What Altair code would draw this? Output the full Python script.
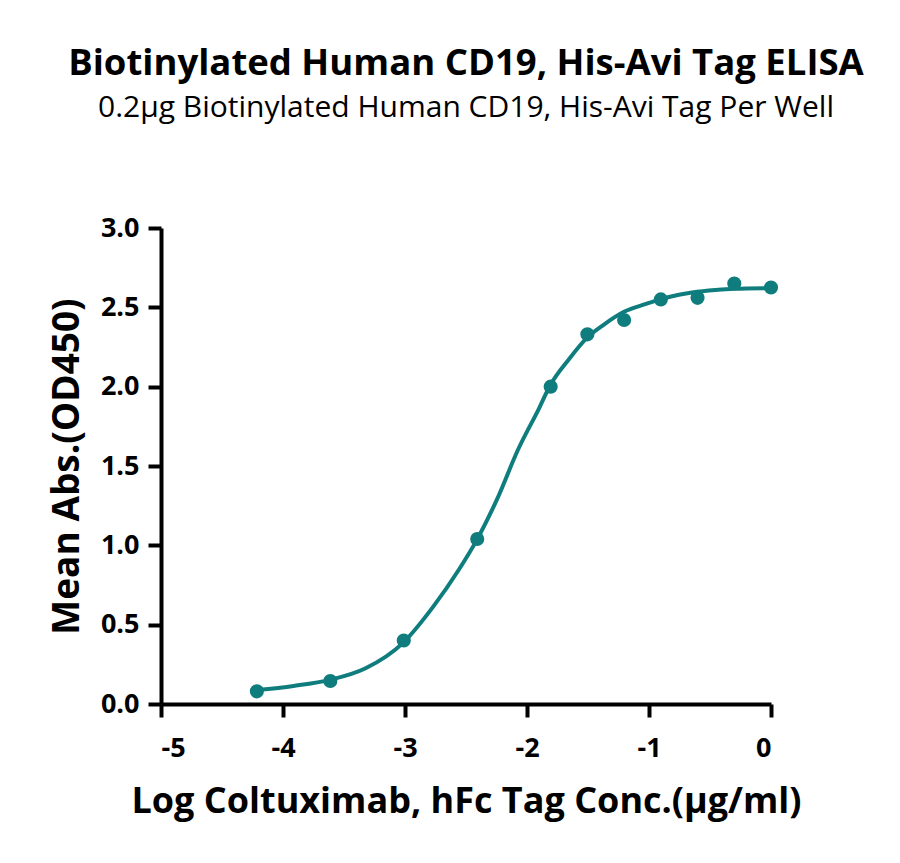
import altair as alt
import pandas as pd

# measured points (log conc, OD450)
log_conc = [-4.214, -3.612, -3.010, -2.408, -1.806, -1.505, -1.204, -0.903, -0.602, -0.301, 0.0]
od450 = [0.08, 0.145, 0.40, 1.04, 2.00, 2.33, 2.42, 2.55, 2.56, 2.65, 2.625]

# fitted curve
curve_x = [-4.215, -3.913, -3.615, -3.323, -3.014, -2.767, -2.559, -2.41, -2.247, -2.073,
           -1.899, -1.813, -1.656, -1.507, -1.378, -1.205, -1.031, -0.903, -0.684, -0.51,
           -0.302, 0.0]
curve_y = [0.088, 0.114, 0.152, 0.225, 0.387, 0.615, 0.846, 1.036, 1.288, 1.604,
           1.867, 2.004, 2.173, 2.309, 2.387, 2.472, 2.52, 2.552, 2.589, 2.606,
           2.617, 2.621]

x_ticks = [-5, -4, -3, -2, -1, 0]
y_ticks = [0.0, 0.5, 1.0, 1.5, 2.0, 2.5, 3.0]

teal = "#0F7D7E"
font = "Open Sans"

pts = pd.DataFrame({"x": log_conc, "y": od450})
fit = pd.DataFrame({"x": curve_x, "y": curve_y})

x_enc = alt.X("x:Q", scale=alt.Scale(domain=[-5, 0], nice=False),
              axis=alt.Axis(values=x_ticks, labelExpr="'' + datum.value",
                            title="Log Coltuximab, hFc Tag Conc.(μg/ml)",
                            titleFontSize=36, titlePadding=23, labelPadding=18))
y_enc = alt.Y("y:Q", scale=alt.Scale(domain=[0, 3], nice=False),
              axis=alt.Axis(values=y_ticks, format=".1f", title="Mean Abs.(OD450)",
                            titleFontSize=37, titlePadding=14, labelPadding=9))

line = alt.Chart(fit).mark_line(color=teal, strokeWidth=4, interpolate="monotone").encode(
    x=x_enc, y=y_enc)
dots = alt.Chart(pts).mark_circle(color=teal, size=200, opacity=1).encode(x="x:Q", y="y:Q")

chart = (line + dots).properties(
    width=610,
    height=476,
    padding={"left": 40, "top": 37, "right": 5, "bottom": 5},
    title=alt.TitleParams(
        "Biotinylated Human CD19, His-Avi Tag ELISA",
        subtitle="0.2μg Biotinylated Human CD19, His-Avi Tag Per Well",
        font=font, fontSize=36.5, fontWeight="bold", color="black",
        subtitleFont=font, subtitleFontSize=30, subtitleColor="black",
        subtitlePadding=11, anchor="middle", offset=91,
    ),
).configure_view(stroke=None).configure_axis(
    domainColor="black", domainWidth=4, tickColor="black", tickWidth=4, tickSize=13,
    grid=False, labelFont=font, labelFontSize=27, labelFontWeight="bold", labelColor="black",
    titleFont=font, titleFontWeight="bold", titleColor="black",
)

chart.save("out.html", embed_options={"renderer": "svg", "actions": False})
